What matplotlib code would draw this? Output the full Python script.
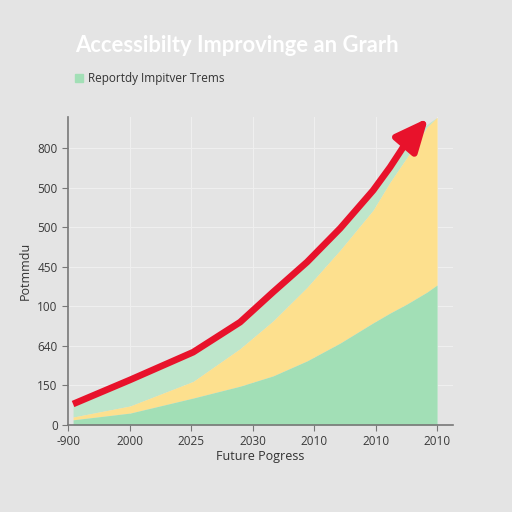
import matplotlib
matplotlib.use("Agg")
import matplotlib.pyplot as plt
from matplotlib.patches import Patch

plt.rcParams["font.family"] = ["Open Sans", "DejaVu Sans"]

# ---- data (tick-index units) ----
x_tick_labels = ["-900", "2000", "2025", "2030", "2010", "2010", "2010"]
y_tick_labels = ["0", "150", "640", "100", "450", "500", "500", "800"]

area_x = [0.081, 1.008, 2.033, 2.797, 3.333, 3.886, 4.423, 4.959, 5.236, 5.512, 5.837, 6.0]
green_top = [0.13, 0.30, 0.68, 0.98, 1.24, 1.62, 2.07, 2.58, 2.83, 3.06, 3.36, 3.54]
yellow_top = [0.20, 0.48, 1.10, 1.93, 2.63, 3.48, 4.42, 5.43, 6.14, 6.77, 7.53, 7.78]
mint_top = [0.53, 1.14, 1.84, 2.60, 3.36, 4.12, 4.97, 5.93, 6.52, 7.17, 7.60, 7.78]

red_x = [0.081, 1.008, 2.033, 2.797, 3.333, 3.886, 4.423, 4.959, 5.236, 5.447]
red_y = [0.53, 1.14, 1.84, 2.60, 3.36, 4.12, 4.97, 5.93, 6.52, 7.02]
arrow_tip = (5.854, 7.76)

title = "Accessibilty Improvinge an Grarh"
legend_label = "Reportdy Impitver Trems"
xlabel = "Future Pogress"
ylabel = "Potmmdu"

BG = "#e4e4e4"
GREEN = "#a2dfb6"
YELLOW = "#fde08e"
MINT = "#bee6cb"
RED = "#e8122b"

fig = plt.figure(figsize=(5.12, 5.12), dpi=100, facecolor=BG)
ax = fig.add_axes([0.133, 0.170, 0.752, 0.601], facecolor=BG)

ax.fill_between(area_x, yellow_top, mint_top, color=MINT, lw=0, zorder=2)
ax.fill_between(area_x, green_top, yellow_top, color=YELLOW, lw=0, zorder=2)
ax.fill_between(area_x, 0, green_top, color=GREEN, lw=0, zorder=2)

ax.plot(red_x, red_y, color=RED, lw=4.8, solid_capstyle="butt",
        solid_joinstyle="round", zorder=4)
ax.annotate("", xy=arrow_tip, xytext=(red_x[-1], red_y[-1]),
            arrowprops=dict(arrowstyle="-|>,head_length=2.0,head_width=0.9",
                            color=RED, lw=4.8, shrinkA=0, shrinkB=0),
            zorder=5)

ax.set_xlim(0, 6.26)
ax.set_ylim(0, 7.78)
ax.set_xticks(range(len(x_tick_labels)))
ax.set_xticklabels(x_tick_labels)
ax.set_yticks(range(len(y_tick_labels)))
ax.set_yticklabels(y_tick_labels)
ax.tick_params(colors="#777777", labelcolor="#3a3a3a", labelsize=8.5, length=4)

ax.grid(True, color="#efefef", lw=0.8, zorder=1)
ax.set_axisbelow(True)
for s in ["top", "right"]:
    ax.spines[s].set_visible(False)
for s in ["left", "bottom"]:
    ax.spines[s].set_color("#777777")
    ax.spines[s].set_linewidth(1.2)

ax.set_xlabel(xlabel, fontsize=9, color="#333333", labelpad=1)
ax.set_ylabel(ylabel, fontsize=9, color="#333333", labelpad=4)

fig.text(0.146, 0.912, title, fontsize=15.8, fontweight="bold",
         family=["Lato", "DejaVu Sans"], color="white", ha="left", va="center")
fig.legend(handles=[Patch(color=GREEN, label=legend_label)],
           loc="center left", bbox_to_anchor=(0.125, 0.847), frameon=False,
           fontsize=8.5, handlelength=0.7, handleheight=0.7, handletextpad=0.4,
           labelcolor="#333333")

fig.savefig("out.png", dpi=100, facecolor=BG)
